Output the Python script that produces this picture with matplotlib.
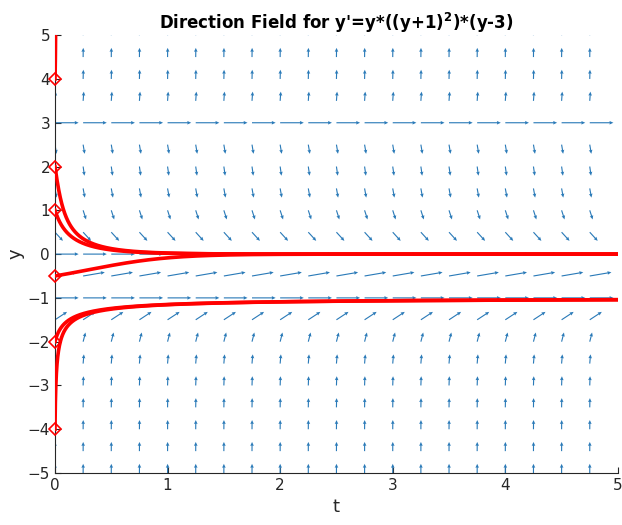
import numpy as np
import matplotlib
matplotlib.use('Agg')
import matplotlib.pyplot as plt

# grid of the direction field and the initial values of the solutions
t_grid = np.arange(0, 5, 0.25)
y_grid = np.arange(-5, 5.01, 0.5)
y_starts = [4, 2, 1, -0.5, -2, -4]
x_ticks = [0, 1, 2, 3, 4, 5]
y_ticks = [-5, -4, -3, -2, -1, 0, 1, 2, 3, 4, 5]


def f(t, y):
    return y * (y + 1) ** 2 * (y - 3)


def solve(y0, t_end=5.0, dt=0.0005):
    ts, ys = [0.0], [y0]
    t, y = 0.0, float(y0)
    while t < t_end:
        k1 = f(t, y)
        k2 = f(t + dt / 2, y + dt / 2 * k1)
        k3 = f(t + dt / 2, y + dt / 2 * k2)
        k4 = f(t + dt, y + dt * k3)
        y = y + dt / 6 * (k1 + 2 * k2 + 2 * k3 + k4)
        t += dt
        ts.append(t)
        ys.append(y)
        if abs(y) > 6:
            break
    return np.array(ts), np.array(ys)


fig = plt.figure(figsize=(6.22, 5.25), dpi=100)
ax = fig.add_axes([0.0884, 0.099, 0.905, 0.834])

T, Y = np.meshgrid(t_grid, y_grid)
S = f(T, Y)
n = np.sqrt(1 + S ** 2)
L = 0.21
ax.quiver(T, Y, L / n, L * S / n, angles='xy', scale_units='xy', scale=1,
          color='#2a7ab8', width=0.002, headwidth=3.2, headlength=3.5,
          headaxislength=3.2, zorder=2)

for y0 in y_starts:
    ts, ys = solve(y0)
    ax.plot(ts, ys, color='red', lw=2.6, zorder=3)
    ax.plot(0, y0, marker='D', ms=6, mfc='none', mec='red', mew=1.2,
            zorder=4, clip_on=False)

ax.set_xlim(0, 5)
ax.set_ylim(-5, 5)
ax.set_xticks(x_ticks)
ax.set_yticks(y_ticks)
gray = '#262626'
ax.tick_params(direction='in', length=4, colors=gray, labelsize=11)
for side in ['top', 'right']:
    ax.spines[side].set_visible(False)
for side in ['left', 'bottom']:
    ax.spines[side].set_color(gray)
ax.set_xlabel('t', color=gray, fontsize=13)
ax.set_ylabel('y', color=gray, fontsize=13, labelpad=2)
ax.set_title(r"Direction Field for y'=y*((y+1)$^{\mathbf{2}}$)*(y-3)",
             fontweight='bold', fontsize=12, pad=4)

fig.savefig('out.png', dpi=100)
